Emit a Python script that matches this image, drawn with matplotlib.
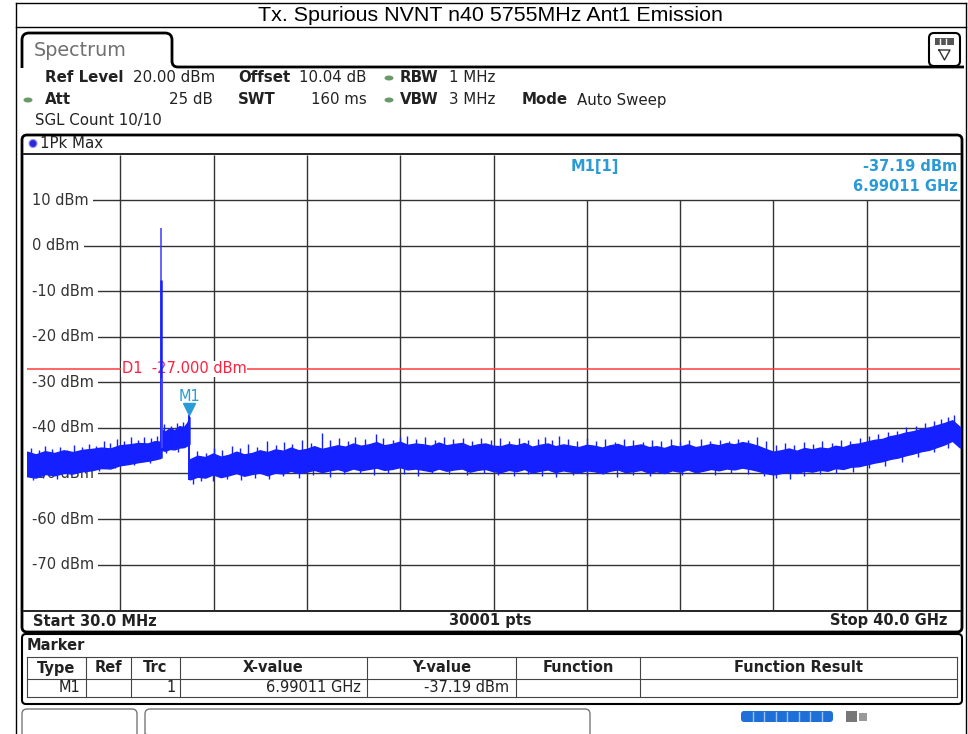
import matplotlib.pyplot as plt
import matplotlib.patches as mpatches
from matplotlib.path import Path
import numpy as np

start_ghz, stop_ghz = 0.03, 40.0
ref_level, bottom_level = 20, -80
y_ticks = [10, 0, -10, -20, -30, -40, -50, -60, -70]
y_labels = ['10 dBm', '0 dBm', '-10 dBm', '-20 dBm', '-30 dBm', '-40 dBm', '-50 dBm', '-60 dBm', '-70 dBm']
limit_d1 = -27.0
m1_freq, m1_level = 6.99011, -37.19
carrier_freq, carrier_peak = 5.755, 4.0

# noise band below the carrier (GHz, lower edge, upper edge in dBm)
a_freq = [0.03, 0.4, 0.8, 1.2, 1.6, 2.0, 2.4, 2.8, 3.2, 3.6, 4.0, 4.4, 4.8, 5.2, 5.5, 5.74]
a_hi = [-45.2, -45.8, -45.1, -45.5, -44.9, -45.3, -44.8, -44.6, -44.3, -44.5, -43.8, -43.6, -43.3, -43.4, -42.9, -43.0]
a_lo = [-50.6, -50.9, -50.1, -50.4, -49.9, -50.0, -49.5, -49.3, -48.8, -48.9, -48.2, -47.9, -47.5, -47.2, -46.9, -46.6]

# raised band between carrier and M1
b_freq = [5.77, 5.95, 6.15, 6.35, 6.55, 6.75, 6.9, 6.99]
b_hi = [-40.2, -40.8, -40.0, -40.5, -39.6, -39.8, -38.8, -37.6]
b_lo = [-44.8, -45.0, -44.6, -44.7, -44.3, -44.2, -43.8, -43.5]

# noise floor 7 GHz .. 40 GHz, one value every 1/3 GHz
c_hi = [-46.9, -46.1, -46.4, -45.6, -46.3, -45.9, -45.2, -45.8, -45.5, -44.9,
        -45.3, -44.7, -45.0, -44.3, -44.9, -44.6, -44.0, -44.6, -44.2, -43.8,
        -44.1, -43.4, -43.9, -43.6, -43.1, -43.8, -43.5, -43.0, -43.7, -43.4,
        -43.6, -43.9, -43.2, -43.8, -43.5, -43.3, -44.0, -43.6, -43.4, -43.9,
        -44.0, -43.5, -43.8, -43.3, -44.1, -43.7, -43.4, -44.0, -43.6, -43.9,
        -44.2, -43.7, -43.9, -44.3, -43.8, -43.5, -44.1, -43.9, -43.6, -44.2,
        -44.0, -44.4, -43.8, -44.1, -43.6, -44.2, -43.9, -43.5, -43.8, -43.3,
        -43.6, -43.1, -43.4, -43.9, -44.6, -45.2, -44.9, -44.5, -45.0, -44.4,
        -44.7, -44.3, -44.5, -43.9, -44.2, -43.6, -43.4, -43.0, -42.6, -42.4,
        -41.8, -41.5, -41.0, -40.7, -40.2, -39.9, -39.4, -38.9, -38.3, -39.8]
c_lo = [-51.3, -50.7, -50.9, -50.2, -50.8, -50.4, -49.9, -50.5, -50.1, -49.8,
        -50.4, -49.8, -50.0, -49.4, -49.9, -49.6, -49.2, -49.7, -49.3, -49.0,
        -49.5, -48.9, -49.3, -49.0, -48.7, -49.2, -49.0, -48.6, -49.1, -48.9,
        -49.2, -49.5, -48.9, -49.4, -49.1, -48.9, -49.6, -49.2, -49.0, -49.5,
        -49.7, -49.2, -49.5, -49.0, -49.8, -49.4, -49.1, -49.7, -49.3, -49.6,
        -49.8, -49.3, -49.5, -49.9, -49.4, -49.1, -49.7, -49.5, -49.2, -49.8,
        -49.5, -49.9, -49.3, -49.6, -49.1, -49.7, -49.4, -49.0, -49.3, -48.9,
        -49.1, -48.7, -49.0, -49.4, -49.9, -50.2, -49.9, -49.6, -49.9, -49.4,
        -49.6, -49.2, -49.4, -48.8, -49.0, -48.5, -48.4, -48.0, -47.6, -47.3,
        -46.8, -46.5, -46.0, -45.6, -45.1, -44.8, -44.2, -43.6, -42.8, -44.3]

# single noise peaks poking out of the band (GHz, dBm)
up_freq = [0.2, 0.55, 0.8, 1.1, 1.45, 1.75, 2.05, 2.4, 2.7, 3.0, 3.35, 3.6, 3.9, 4.2, 4.5, 4.8, 5.05,
           5.35, 5.6, 5.9, 6.2, 6.45, 6.7,
           7.3, 7.7, 8.05, 8.4, 8.8, 9.15, 9.5, 9.9, 10.3, 10.7, 11.05, 11.4, 11.8, 12.2, 12.67, 13.0,
           13.4, 13.8, 14.1, 14.5, 14.98, 15.3, 15.7, 16.0, 16.31, 16.7, 17.1, 17.5, 17.9, 18.3, 18.7,
           19.1, 19.5, 19.9, 20.3, 20.7, 21.1, 21.5, 21.9, 22.2, 22.5, 22.8, 23.2, 23.6, 24.0, 24.4,
           24.8, 25.2, 25.6, 26.0, 26.4, 26.8, 27.2, 27.6, 28.0, 28.4, 28.9, 29.3, 29.7, 30.1, 30.5,
           30.9, 31.3, 31.7, 32.1, 32.5, 32.9, 33.3, 33.7, 34.1, 34.5, 34.9, 35.3, 35.7, 36.1, 36.5,
           36.9, 37.3, 37.7, 38.1, 38.5, 38.9, 39.2, 39.5, 39.75]
up_peak = [-44.3, -44.9, -43.9, -44.6, -44.1, -44.8, -43.8, -44.2, -43.6, -43.9, -42.9, -43.4, -42.5,
           -42.9, -42.0, -42.6, -41.9, -42.3, -41.8, -39.2, -39.6, -38.9, -38.6,
           -45.0, -45.6, -44.3, -44.9, -44.0, -44.5, -43.6, -44.2, -42.8, -43.7, -43.1, -43.6, -42.7,
           -43.2, -41.0, -42.6, -42.1, -42.8, -41.9, -42.5, -41.4, -42.2, -42.6, -41.9, -41.7, -42.4,
           -42.0, -42.6, -41.9, -42.5, -42.2, -42.8, -42.1, -42.6, -42.3, -42.9, -42.2, -42.7, -42.4,
           -41.9, -42.6, -41.7, -42.5, -42.9, -42.3, -42.8, -42.5, -43.0, -42.4, -42.7, -43.1, -42.6,
           -42.9, -42.5, -43.0, -42.7, -42.4, -42.8, -42.6, -42.9, -42.4, -42.7, -41.9, -42.9, -43.8,
           -43.4, -43.7, -43.1, -43.5, -42.9, -43.2, -42.6, -42.8, -42.1, -41.8, -41.3, -40.9, -40.6,
           -39.8, -39.6, -38.9, -38.5, -38.0, -37.6, -37.2]
down_freq = [0.3, 0.7, 1.3, 1.9, 2.5, 3.1, 3.8, 4.6, 5.3, 6.0, 6.5,
             7.14, 7.5, 8.0, 8.6, 9.2, 9.8, 10.4, 11.0, 11.7, 12.3, 13.0, 13.6, 14.3, 14.9, 15.5, 16.2,
             16.8, 17.4, 18.1, 18.9, 19.6, 20.2, 20.9, 21.5, 22.1, 22.7, 23.4, 24.0, 24.7, 25.3, 26.0,
             26.7, 27.4, 28.1, 28.8, 29.5, 30.2, 30.9, 31.6, 32.1, 32.7, 33.3, 34.0, 34.7, 35.4, 36.1,
             36.8, 37.5, 38.2, 38.9, 39.5]
down_low = [-51.4, -51.0, -51.1, -50.4, -50.0, -49.4, -48.9, -48.1, -47.6, -45.6, -45.2,
            -52.2, -51.6, -51.7, -51.2, -51.4, -50.9, -51.1, -50.6, -51.0, -50.3, -50.8, -50.1, -49.9,
            -50.3, -49.8, -50.2, -50.5, -49.9, -50.2, -50.4, -50.0, -50.4, -50.6, -50.1, -50.5, -50.8,
            -50.3, -50.6, -50.2, -50.7, -50.3, -50.6, -50.0, -50.4, -49.9, -50.3, -49.8, -50.1, -50.5,
            -51.0, -51.1, -50.6, -50.2, -49.8, -49.6, -48.9, -48.3, -47.4, -46.3, -45.2, -44.3]

trace_c = '#1420ff'
marker_c = '#2a9bd6'
d1_c = '#ff3b3b'

fig = plt.figure(figsize=(9.68, 7.34), dpi=100)

# background layer in pixel units for the instrument frame
bg = fig.add_axes([0, 0, 1, 1])
bg.set_xlim(0, 968)
bg.set_ylim(734, 0)
bg.axis('off')

def rbox(x, y, w, h, r=6, lw=1.5, ec='black', fc='none', z=1):
    bg.add_patch(mpatches.FancyBboxPatch((x, y), w, h, boxstyle=f'round,pad=0,rounding_size={r}',
                                         lw=lw, ec=ec, fc=fc, zorder=z))

# outer table + title row
bg.plot([16, 16], [3, 734], color='black', lw=1)
bg.plot([966, 966], [3, 734], color='black', lw=1)
bg.plot([16, 966], [3, 3], color='black', lw=1)
bg.plot([16, 966], [27, 27], color='black', lw=1)
bg.text(490, 15.5, 'Tx. Spurious NVNT n40 5755MHz Ant1 Emission', ha='center', va='center',
        fontsize=15.4, family='Liberation Sans')

# spectrum tab
tab = Path([(22, 68), (22, 40), (22, 33), (29, 33), (165, 33), (172, 33), (172, 40),
            (172, 61), (172, 67), (178, 67), (964, 67)],
           [Path.MOVETO, Path.LINETO, Path.CURVE3, Path.CURVE3, Path.LINETO, Path.CURVE3, Path.CURVE3,
            Path.LINETO, Path.CURVE3, Path.CURVE3, Path.LINETO])
bg.add_patch(mpatches.PathPatch(tab, fc='none', ec='black', lw=2))
bg.text(34, 50, 'Spectrum', fontsize=13.8, color='#707070', va='center', family='DejaVu Sans')

# small icon top right
rbox(929, 33, 31, 33, r=5, lw=1.5)
bg.add_patch(mpatches.Rectangle((935, 38), 19, 7, fc='#555555', ec='none'))
for xx in (940, 946):
    bg.plot([xx, xx], [39, 44], color='white', lw=1)
bg.plot([939, 950, 944.5, 939], [50, 50, 60, 50], color='#333333', lw=1)

# header settings
hdr = dict(fontsize=10.8, va='center', color='#222222', family='DejaVu Sans')
bg.text(45, 78, 'Ref Level', fontweight='bold', **hdr)
bg.text(133, 78, '20.00 dBm', **hdr)
bg.text(238, 78, 'Offset', fontweight='bold', **hdr)
bg.text(299, 78, '10.04 dB', **hdr)
bg.text(400, 78, 'RBW', fontweight='bold', **hdr)
bg.text(449, 78, '1 MHz', **hdr)
bg.text(45, 100, 'Att', fontweight='bold', **hdr)
bg.text(213, 100, '25 dB', ha='right', **hdr)
bg.text(238, 100, 'SWT', fontweight='bold', **hdr)
bg.text(367, 100, '160 ms', ha='right', **hdr)
bg.text(400, 100, 'VBW', fontweight='bold', **hdr)
bg.text(449, 100, '3 MHz', **hdr)
bg.text(522, 100, 'Mode', fontweight='bold', **hdr)
bg.text(577, 100, 'Auto Sweep', **hdr)
bg.text(35, 121, 'SGL Count 10/10', **hdr)
for (dx, dy) in [(389, 78), (389, 100), (28, 100)]:
    bg.add_patch(mpatches.Ellipse((dx, dy), 9, 5, fc='#6a9a6a', ec='none'))

# trace panel
rbox(22, 135, 940, 497, r=5, lw=2)
bg.add_patch(mpatches.Circle((33, 143.5), 4, fc='#2b2bd6', ec='#9999ff', lw=0.8))
bg.text(40, 143.5, '1Pk Max', **hdr)
bg.plot([24, 960], [154, 154], color='black', lw=1.2)
bg.plot([24, 960], [611, 611], color='black', lw=1.2)
bot = dict(fontsize=10.5, va='center', fontweight='bold', color='#222222', family='DejaVu Sans')
bg.text(33, 621, 'Start 30.0 MHz', **bot)
bg.text(490, 621, '30001 pts', ha='center', **bot)
bg.text(948, 621, 'Stop 40.0 GHz', ha='right', **bot)

# marker table
rbox(22, 634, 940, 70, r=4, lw=1.5)
bg.text(27, 646, 'Marker', **bot)
cols = [27, 86, 131, 180, 367, 516, 640, 957]
bg.plot([27, 957], [657, 657], color='#444444', lw=0.8)
bg.plot([27, 957], [679, 679], color='#444444', lw=0.8)
bg.plot([27, 957], [697, 697], color='#444444', lw=0.8)
for cx in cols:
    bg.plot([cx, cx], [657, 697], color='#444444', lw=0.8)
heads = ['Type', 'Ref', 'Trc', 'X-value', 'Y-value', 'Function', 'Function Result']
for i, h in enumerate(heads):
    bg.text((cols[i] + cols[i + 1]) / 2, 668, h, ha='center', **bot)
row = dict(fontsize=10.5, va='center', ha='right', color='#222222', family='DejaVu Sans')
bg.text(80, 688, 'M1', **row)
bg.text(176, 688, '1', **row)
bg.text(361, 688, '6.99011 GHz', **row)
bg.text(509, 688, '-37.19 dBm', **row)

# status bar
rbox(22, 709, 115, 30, r=5, lw=1, ec='#777777')
rbox(145, 709, 445, 30, r=5, lw=1, ec='#777777')
bg.add_patch(mpatches.FancyBboxPatch((741, 711), 92, 11, boxstyle='round,pad=0,rounding_size=3',
                                     fc='#1e6fd8', ec='none'))
for k in range(1, 8):
    bg.plot([741 + k * 11.5, 741 + k * 11.5], [712, 721], color='#9cc4f2', lw=1)
bg.add_patch(mpatches.Rectangle((846, 711), 11, 11, fc='#777777', ec='none'))
bg.add_patch(mpatches.Rectangle((859, 713), 8, 8, fc='#999999', ec='none'))

# ---- trace axes ----
ax = fig.add_axes([27 / 968, 1 - 610 / 734, 933 / 968, 455 / 734])
ax.set_xlim(start_ghz, stop_ghz)
ax.set_ylim(bottom_level, ref_level)
ax.set_facecolor('none')
ax.set_xticks([])
ax.set_yticks([])
for s in ax.spines.values():
    s.set_visible(False)

span = stop_ghz - start_ghz
for k in range(1, 10):
    top = ref_level if k <= 5 else 10
    ax.vlines(start_ghz + k * span / 10, bottom_level, top, color='#333333', lw=1, zorder=1)
for yv, lab in zip(y_ticks, y_labels):
    ax.hlines(yv, start_ghz, stop_ghz, color='#333333', lw=1, zorder=1)
    ax.text(start_ghz + 0.2, yv, lab, fontsize=10.5, color='#333333', va='center', ha='left',
            family='DejaVu Sans', zorder=2, clip_on=True,
            bbox=dict(fc='white', ec='none', boxstyle='square,pad=0.32'))

# limit line D1
ax.hlines(limit_d1, start_ghz, stop_ghz, color=d1_c, lw=1.1, zorder=2)
ax.text(4.08, limit_d1, 'D1  -27.000 dBm', color='#ff2040', fontsize=10.5, va='center',
        family='DejaVu Sans', zorder=2, bbox=dict(fc='white', ec='none', pad=0.5))

# noise band, drawn with a jagged line style so the edges read as noise
for fr, lo, hi in [(a_freq, a_lo, a_hi), (b_freq, b_lo, b_hi),
                   (np.linspace(7.0, stop_ghz, len(c_hi)), c_lo, c_hi)]:
    band = ax.fill_between(fr, lo, hi, color=trace_c, lw=1.0, ec=trace_c, zorder=3)
    band.set_sketch_params(scale=3.5, length=0.9, randomness=2)
ax.vlines(up_freq, np.array(up_peak) - 4, up_peak, color=trace_c, lw=1.0, zorder=3)
ax.vlines(down_freq, down_low, np.array(down_low) + 4, color=trace_c, lw=1.0, zorder=3)

# carrier and band edges
ax.vlines(carrier_freq, -46.5, carrier_peak, color='#3a3aff', lw=1.1, zorder=4)
ax.vlines(carrier_freq, -46.5, -7.5, color=trace_c, lw=1.8, zorder=4)
ax.vlines(carrier_freq + 0.06, -44.5, -29.0, color='#4a4aff', lw=1.2, zorder=4)
ax.vlines(m1_freq, -51.5, m1_level, color=trace_c, lw=1.4, zorder=4)

# marker M1
ax.plot(m1_freq, m1_level + 1.3, marker='v', ms=8, color=marker_c, mec=marker_c, zorder=5)
ax.text(m1_freq, m1_level + 4.2, 'M1', color=marker_c, fontsize=10.5, ha='center', va='center',
        family='DejaVu Sans', zorder=5)
ax.text(23.3, 17.4, 'M1[1]', color=marker_c, fontsize=10.5, ha='left', va='center',
        family='DejaVu Sans', fontweight='bold', zorder=5)
ax.text(39.9, 17.4, '-37.19 dBm', color=marker_c, fontsize=10.5, ha='right', va='center',
        family='DejaVu Sans', fontweight='bold', zorder=5)
ax.text(39.9, 13.0, '6.99011 GHz', color=marker_c, fontsize=10.5, ha='right', va='center',
        family='DejaVu Sans', fontweight='bold', zorder=5)

fig.savefig('out.png', dpi=100)
